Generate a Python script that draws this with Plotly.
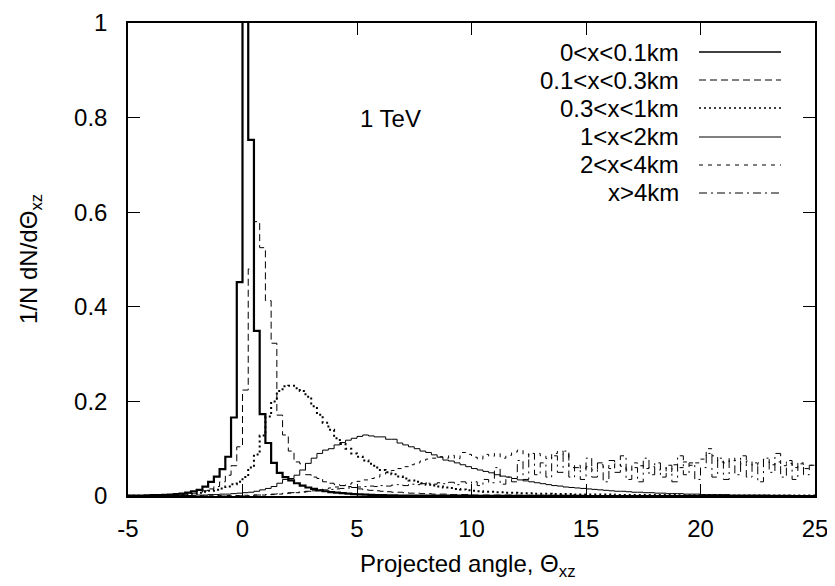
import numpy as np
import plotly.graph_objects as go

# histogram bins: width 0.25 from -5 to 25
bin_width = 0.25
x_start = -5.0
n_bins = 120

s_0_01 = [
    0.001, 0.001, 0.001, 0.0015,
    0.002, 0.002, 0.0025, 0.003,
    0.004, 0.005, 0.007, 0.01,
    0.013, 0.02, 0.03, 0.041,
    0.057, 0.083, 0.166, 0.452,
    1.3, 0.753, 0.349, 0.173,
    0.112, 0.07, 0.049, 0.04,
    0.033, 0.027, 0.022, 0.018,
    0.015, 0.012, 0.01, 0.008,
    0.007, 0.006, 0.005, 0.004,
    0.0035, 0.003, 0.0025, 0.002,
    0.002, 0.0015, 0.0015, 0.001,
    0.001, 0.001, 0.001, 0.001,
    0.001, 0.001, 0.001, 0.001,
    0.001, 0.001, 0.001, 0.001,
    0.0005, 0.0005, 0.0005, 0.0005,
    0.0005, 0.0005, 0.0005, 0.0005,
    0.0005, 0.0005, 0.0005, 0.0005,
    0.0005, 0.0005, 0.0005, 0.0005,
    0.0005, 0.0005, 0.0005, 0.0005,
    0.0, 0.0, 0.0, 0.0,
    0.0, 0.0, 0.0, 0.0,
    0.0, 0.0, 0.0, 0.0,
    0.0, 0.0, 0.0, 0.0,
    0.0, 0.0, 0.0, 0.0,
    0.0, 0.0, 0.0, 0.0,
    0.0, 0.0, 0.0, 0.0,
    0.0, 0.0, 0.0, 0.0,
    0.0, 0.0, 0.0, 0.0,
    0.0, 0.0, 0.0, 0.0,
]

s_01_03 = [
    0.001, 0.001, 0.001, 0.001,
    0.0015, 0.002, 0.002, 0.0025,
    0.003, 0.004, 0.005, 0.006,
    0.008, 0.011, 0.015, 0.02,
    0.03, 0.044, 0.064, 0.104,
    0.224, 0.48, 0.58, 0.525,
    0.413, 0.323, 0.171, 0.129,
    0.095, 0.072, 0.068, 0.045,
    0.04, 0.037, 0.03, 0.027,
    0.024, 0.022, 0.02, 0.018,
    0.015, 0.013, 0.012, 0.011,
    0.01, 0.009, 0.008, 0.008,
    0.007, 0.006, 0.006, 0.005,
    0.005, 0.004, 0.004, 0.004,
    0.003, 0.003, 0.003, 0.003,
    0.002, 0.002, 0.002, 0.002,
    0.002, 0.002, 0.002, 0.002,
    0.0015, 0.0015, 0.0015, 0.0015,
    0.0015, 0.0015, 0.0015, 0.0015,
    0.001, 0.001, 0.001, 0.001,
    0.001, 0.001, 0.001, 0.001,
    0.001, 0.001, 0.001, 0.001,
    0.001, 0.001, 0.001, 0.001,
    0.001, 0.001, 0.001, 0.001,
    0.001, 0.001, 0.001, 0.001,
    0.001, 0.001, 0.001, 0.001,
    0.001, 0.001, 0.001, 0.001,
    0.001, 0.001, 0.001, 0.001,
    0.001, 0.001, 0.001, 0.001,
    0.001, 0.001, 0.001, 0.001,
]

s_03_1 = [
    0.0005, 0.0005, 0.0005, 0.0005,
    0.001, 0.001, 0.0015, 0.0015,
    0.002, 0.003, 0.004, 0.005,
    0.007, 0.009, 0.011, 0.013,
    0.016, 0.02, 0.025, 0.03,
    0.04, 0.06, 0.088, 0.128,
    0.168, 0.2, 0.222, 0.232,
    0.233, 0.228, 0.222, 0.21,
    0.19, 0.172, 0.155, 0.14,
    0.122, 0.11, 0.1, 0.09,
    0.083, 0.075, 0.068, 0.06,
    0.055, 0.05, 0.046, 0.041,
    0.037, 0.033, 0.03, 0.027,
    0.024, 0.022, 0.02, 0.018,
    0.017, 0.015, 0.014, 0.012,
    0.011, 0.01, 0.009, 0.009,
    0.008, 0.008, 0.007, 0.007,
    0.006, 0.006, 0.006, 0.005,
    0.005, 0.005, 0.004, 0.004,
    0.004, 0.004, 0.003, 0.003,
    0.003, 0.003, 0.003, 0.003,
    0.003, 0.002, 0.002, 0.002,
    0.002, 0.002, 0.002, 0.002,
    0.002, 0.002, 0.002, 0.002,
    0.0015, 0.0015, 0.0015, 0.0015,
    0.0015, 0.0015, 0.0015, 0.0015,
    0.001, 0.001, 0.001, 0.001,
    0.001, 0.001, 0.001, 0.001,
    0.001, 0.001, 0.001, 0.001,
    0.001, 0.001, 0.001, 0.001,
]

s_1_2 = [
    0.0005, 0.0005, 0.0005, 0.0005,
    0.0005, 0.0005, 0.0005, 0.0005,
    0.001, 0.001, 0.001, 0.0015,
    0.002, 0.002, 0.003, 0.003,
    0.004, 0.004, 0.005, 0.006,
    0.007, 0.008, 0.01, 0.013,
    0.016, 0.02, 0.027, 0.035,
    0.037, 0.044, 0.055, 0.069,
    0.08, 0.09, 0.097, 0.1,
    0.108, 0.113, 0.118, 0.122,
    0.126, 0.129, 0.127, 0.125,
    0.125, 0.12, 0.12, 0.112,
    0.108, 0.104, 0.1, 0.095,
    0.092, 0.087, 0.082, 0.076,
    0.074, 0.07, 0.066, 0.062,
    0.058, 0.055, 0.052, 0.049,
    0.045, 0.042, 0.04, 0.037,
    0.034, 0.032, 0.03, 0.028,
    0.026, 0.024, 0.022, 0.021,
    0.019, 0.018, 0.017, 0.016,
    0.015, 0.014, 0.013, 0.012,
    0.011, 0.01, 0.01, 0.009,
    0.008, 0.008, 0.007, 0.007,
    0.006, 0.006, 0.005, 0.005,
    0.005, 0.004, 0.004, 0.004,
    0.003, 0.003, 0.003, 0.003,
    0.003, 0.002, 0.002, 0.002,
    0.002, 0.002, 0.002, 0.002,
    0.0015, 0.0015, 0.0015, 0.0015,
    0.001, 0.001, 0.001, 0.001,
]

s_2_4 = [
    0.0, 0.0, 0.0, 0.0,
    0.0, 0.0, 0.0, 0.0,
    0.0, 0.0, 0.0005, 0.0005,
    0.0005, 0.0005, 0.0005, 0.001,
    0.001, 0.001, 0.001, 0.001,
    0.0015, 0.0015, 0.002, 0.002,
    0.002, 0.003, 0.004, 0.005,
    0.006, 0.007, 0.008, 0.009,
    0.011, 0.013, 0.015, 0.017,
    0.019, 0.022, 0.025, 0.028,
    0.031, 0.034, 0.037, 0.04,
    0.046, 0.05, 0.054, 0.058,
    0.062, 0.066, 0.07, 0.074,
    0.078, 0.08, 0.083, 0.08,
    0.086, 0.079, 0.092, 0.088,
    0.082, 0.078, 0.088, 0.084,
    0.09, 0.08, 0.086, 0.093,
    0.097, 0.088, 0.082, 0.09,
    0.085, 0.079, 0.09, 0.095,
    0.088, 0.06, 0.065, 0.058,
    0.062, 0.055, 0.066, 0.06,
    0.058, 0.068, 0.063, 0.055,
    0.07, 0.064, 0.058, 0.062,
    0.055, 0.06, 0.052, 0.066,
    0.06, 0.072, 0.065, 0.07,
    0.078, 0.1, 0.085, 0.072,
    0.07, 0.08, 0.075, 0.068,
    0.074, 0.065, 0.07, 0.078,
    0.066, 0.072, 0.064, 0.069,
    0.06, 0.068, 0.058, 0.065,
]

s_4 = [
    0.0, 0.0, 0.0, 0.0,
    0.0, 0.0, 0.0, 0.0,
    0.0, 0.0, 0.0, 0.0,
    0.0, 0.0, 0.0, 0.0,
    0.0, 0.0, 0.0005, 0.0005,
    0.001, 0.001, 0.002, 0.002,
    0.003, 0.004, 0.005, 0.006,
    0.007, 0.008, 0.009, 0.01,
    0.011, 0.012, 0.013, 0.014,
    0.015, 0.016, 0.017, 0.018,
    0.019, 0.02, 0.021, 0.02,
    0.022, 0.021, 0.023, 0.024,
    0.022, 0.025, 0.024, 0.026,
    0.027, 0.025, 0.028, 0.026,
    0.029, 0.024, 0.03, 0.027,
    0.03, 0.022, 0.035, 0.028,
    0.06, 0.025, 0.04, 0.03,
    0.075, 0.035, 0.09, 0.045,
    0.07, 0.04, 0.085, 0.05,
    0.095, 0.04, 0.06, 0.035,
    0.08, 0.04, 0.07, 0.03,
    0.075, 0.05, 0.085, 0.035,
    0.06, 0.03, 0.08, 0.045,
    0.07, 0.04, 0.065, 0.03,
    0.085, 0.045, 0.07, 0.035,
    0.06, 0.09, 0.04, 0.08,
    0.035, 0.075, 0.045, 0.085,
    0.04, 0.07, 0.03, 0.08,
    0.05, 0.09, 0.04, 0.075,
    0.035, 0.07, 0.045, 0.065,
]

series_names = ["0<x<0.1km", "0.1<x<0.3km", "0.3<x<1km", "1<x<2km", "2<x<4km", "x>4km"]
series_values = [s_0_01, s_01_03, s_03_1, s_1_2, s_2_4, s_4]
line_dash = ["solid", "7px,4px", "2px,3px", "solid", "4px,5px", "8px,4px,2px,4px"]
line_width = [2.2, 1.0, 2.0, 1.0, 1.0, 1.0]

edges = x_start + bin_width * np.arange(n_bins + 1)

x_ticks = [-5, 0, 5, 10, 15, 20, 25]
x_tick_text = ["-5", "0", "5", "10", "15", "20", "25"]
y_ticks = [0, 0.2, 0.4, 0.6, 0.8, 1]
y_tick_text = ["0", "0.2", "0.4", "0.6", "0.8", "1"]

FONT = "Liberation Sans, Arial, Helvetica, sans-serif"
FS = 24

fig = go.Figure()
for name, vals, dash, w in zip(series_names, series_values, line_dash, line_width):
    y = list(vals) + [vals[-1]]
    fig.add_trace(go.Scatter(
        x=edges, y=y, mode="lines", name=name,
        line=dict(color="black", width=w, dash=dash, shape="hv"),
        showlegend=False, hoverinfo="skip",
    ))

# the page has an 8px body margin: compensate so the plot lands at the reference position
OFF = 8
W, H = 835 - OFF, 586 - OFF
L, R, T, B = 128 - OFF, 20, 23 - OFF, 90
pw, ph = W - L - R, H - T - B

def px2paper(px, py):
    # px, py in screenshot pixels
    return (px - OFF - L) / pw, (H - B - (py - OFF)) / ph

legend_rows_py = [52, 80, 108, 137, 165, 193]
shapes = []
annotations = []
for name, dash, w, py in zip(series_names, line_dash, line_width, legend_rows_py):
    x0, y0 = px2paper(699, py)
    x1, _ = px2paper(781, py)
    xt, _ = px2paper(681, py)
    shapes.append(dict(type="line", xref="paper", yref="paper", x0=x0, x1=x1, y0=y0, y1=y0,
                       line=dict(color="black", width=min(w, 1.6), dash=dash)))
    annotations.append(dict(text=name, xref="paper", yref="paper", x=xt, y=y0,
                            xanchor="right", yanchor="middle", showarrow=False,
                            font=dict(family=FONT, size=FS, color="black")))

tx, ty = px2paper(358, 119)
annotations.append(dict(text="1 TeV", xref="paper", yref="paper", x=tx, y=ty,
                        xanchor="left", yanchor="middle", showarrow=False,
                        font=dict(family=FONT, size=FS, color="black")))
ax, ay = px2paper(468, 565)
annotations.append(dict(text="Projected angle, Θ<sub>xz</sub>", xref="paper", yref="paper",
                        x=ax, y=ay, xanchor="center", yanchor="middle", showarrow=False,
                        font=dict(family=FONT, size=FS, color="black")))
bx, by = px2paper(30, 259)
annotations.append(dict(text="1/N dN/dΘ<sub>xz</sub>", xref="paper", yref="paper",
                        x=bx, y=by, xanchor="center", yanchor="middle", showarrow=False,
                        textangle=-90, font=dict(family=FONT, size=FS, color="black")))

axis_common = dict(showgrid=False, zeroline=False, showline=True, linecolor="black",
                   linewidth=1.5, mirror="ticks", ticks="inside", ticklen=12,
                   tickwidth=1.2, tickcolor="black", automargin=False,
                   tickfont=dict(family=FONT, size=FS, color="black"))

fig.update_layout(
    width=W, height=H,
    margin=dict(l=L, r=R, t=T, b=B, pad=0, autoexpand=False),
    paper_bgcolor="white", plot_bgcolor="white",
    xaxis=dict(range=[-5, 25], tickvals=x_ticks, ticktext=x_tick_text,
               ticklabelstandoff=10, **axis_common),
    yaxis=dict(range=[0, 1], tickvals=y_ticks, ticktext=y_tick_text,
               ticklabelstandoff=14, **axis_common),
    shapes=shapes, annotations=annotations, showlegend=False,
)

fig.write_html("out.html")
